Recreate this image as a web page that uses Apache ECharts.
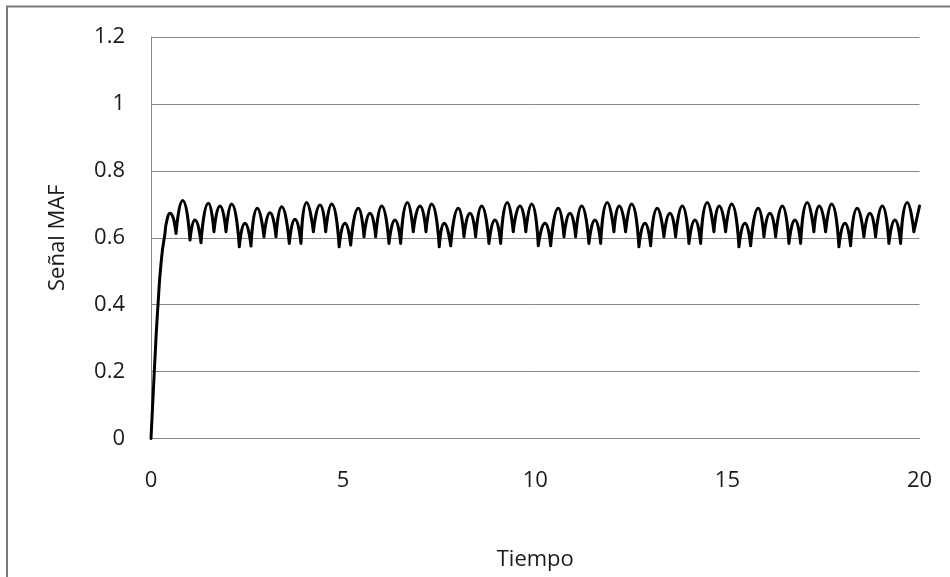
<!DOCTYPE html>
<html>
<head>
<meta charset="utf-8">
<script src="https://cdn.jsdelivr.net/npm/echarts@6/dist/echarts.min.js"></script>
<style>
  html, body { margin: 0; padding: 0; background: #ffffff; }
  #chart { width: 950px; height: 577px; }
</style>
</head>
<body>
<div id="chart"></div>
<script>
// Start-up ramp of the MAF output (time, value)
const rampTime  = [0, 0.09, 0.19, 0.28, 0.36, 0.41];
const rampValue = [0, 0.21, 0.414, 0.545, 0.61, 0.65];

// Successive extremes of the filtered signal: peak, cusp, peak, cusp, ...
const extremaTime = [
  0.494, 0.651, 0.824, 1.015, 1.145, 1.301, 1.492, 1.639, 1.795, 1.952,
  2.099, 2.298, 2.446, 2.602, 2.767, 2.940, 3.097, 3.253, 3.401, 3.599,
  3.747, 3.903, 4.051, 4.226, 4.398, 4.546, 4.702, 4.896, 5.048, 5.196,
  5.395, 5.543, 5.699, 5.847, 6.004, 6.193, 6.349, 6.497, 6.672, 6.825,
  7.000, 7.156, 7.304, 7.502, 7.632, 7.799, 7.997, 8.145, 8.301, 8.449,
  8.605, 8.795, 8.951, 9.100, 9.272, 9.427, 9.602, 9.754, 9.907, 10.079,
  10.253, 10.401, 10.599, 10.747, 10.903, 11.051, 11.207, 11.397, 11.553, 11.702,
  11.874, 12.048, 12.186, 12.352, 12.508, 12.698, 12.854, 13.003, 13.175, 13.349,
  13.505, 13.653, 13.825, 14.000, 14.156, 14.304, 14.476, 14.650, 14.788, 14.954,
  15.111, 15.301, 15.457, 15.605, 15.803, 15.951, 16.107, 16.256, 16.428, 16.602,
  16.758, 16.906, 17.078, 17.252, 17.390, 17.557, 17.713, 17.903, 18.059, 18.207,
  18.379, 18.553, 18.709, 18.857, 19.030, 19.204, 19.360, 19.508, 19.680, 19.854,
  20.000
];
const extremaValue = [
  0.673, 0.613, 0.711, 0.593, 0.653, 0.585, 0.703, 0.618, 0.695, 0.618,
  0.701, 0.573, 0.643, 0.575, 0.688, 0.603, 0.675, 0.603, 0.693, 0.583,
  0.655, 0.583, 0.705, 0.618, 0.698, 0.618, 0.701, 0.573, 0.643, 0.578,
  0.688, 0.603, 0.673, 0.603, 0.695, 0.583, 0.653, 0.583, 0.705, 0.618,
  0.695, 0.618, 0.701, 0.573, 0.643, 0.576, 0.688, 0.603, 0.673, 0.603,
  0.695, 0.583, 0.653, 0.583, 0.705, 0.618, 0.695, 0.618, 0.701, 0.576,
  0.643, 0.576, 0.688, 0.603, 0.673, 0.603, 0.695, 0.583, 0.653, 0.583,
  0.705, 0.618, 0.695, 0.618, 0.701, 0.573, 0.643, 0.576, 0.688, 0.603,
  0.673, 0.603, 0.695, 0.583, 0.653, 0.583, 0.705, 0.618, 0.695, 0.618,
  0.701, 0.573, 0.643, 0.576, 0.688, 0.603, 0.673, 0.603, 0.695, 0.583,
  0.653, 0.583, 0.705, 0.618, 0.695, 0.618, 0.701, 0.573, 0.643, 0.576,
  0.688, 0.603, 0.673, 0.603, 0.695, 0.583, 0.653, 0.583, 0.705, 0.618,
  0.695
];

const xTicks = { min: 0, max: 20, step: 5 };
const yTicks = { min: 0, max: 1.2, step: 0.2 };

// Each arch is drawn as its own smooth piece so the cusps between them stay sharp.
const lineData = [];
rampTime.forEach((t, i) => lineData.push([t, rampValue[i]]));
extremaTime.forEach((t, i) => {
  const v = extremaValue[i];
  lineData.push([t, v]);
  const prev = extremaValue[i - 1], next = extremaValue[i + 1];
  const isCusp = i > 0 && next !== undefined && v < prev && v < next;
  if (isCusp) {
    lineData.push([t, null]);
    lineData.push([t, v]);
  }
});

const FONT = 'Open Sans';
const chart = echarts.init(document.getElementById('chart'), null, { renderer: 'canvas' });
chart.setOption({
  backgroundColor: '#ffffff',
  animation: false,
  graphic: [{
    type: 'rect',
    shape: { x: 7, y: 6.5, width: 1000, height: 700 },
    style: { fill: 'none', stroke: '#7a7a7a', lineWidth: 2 },
    silent: true, z: -1
  }],
  grid: { left: 151, right: 30.5, top: 37, bottom: 138.5 },
  xAxis: {
    type: 'value',
    min: xTicks.min, max: xTicks.max, interval: xTicks.step,
    name: 'Tiempo', nameLocation: 'middle', nameGap: 110,
    nameTextStyle: { fontFamily: FONT, fontSize: 22, color: '#1a1a1a' },
    axisLine: { show: true, lineStyle: { color: '#868686', width: 1 } },
    axisTick: { show: false },
    splitLine: { show: false },
    axisLabel: { fontFamily: FONT, fontSize: 22, color: '#1a1a1a', margin: 31 }
  },
  yAxis: {
    type: 'value',
    min: yTicks.min, max: yTicks.max, interval: yTicks.step,
    name: 'Señal MAF', nameLocation: 'middle', nameGap: 82,
    nameTextStyle: { fontFamily: FONT, fontSize: 22, color: '#1a1a1a' },
    axisLine: { show: true, lineStyle: { color: '#868686', width: 1 } },
    axisTick: { show: false },
    splitLine: { show: true, lineStyle: { color: '#868686', width: 1 } },
    axisLabel: { fontFamily: FONT, fontSize: 22, color: '#1a1a1a', margin: 26 }
  },
  series: [{
    type: 'line',
    data: lineData,
    showSymbol: false,
    smooth: 0.6,
    connectNulls: false,
    lineStyle: { color: '#000000', width: 3, cap: 'round', join: 'round' }
  }]
});
</script>
</body>
</html>
